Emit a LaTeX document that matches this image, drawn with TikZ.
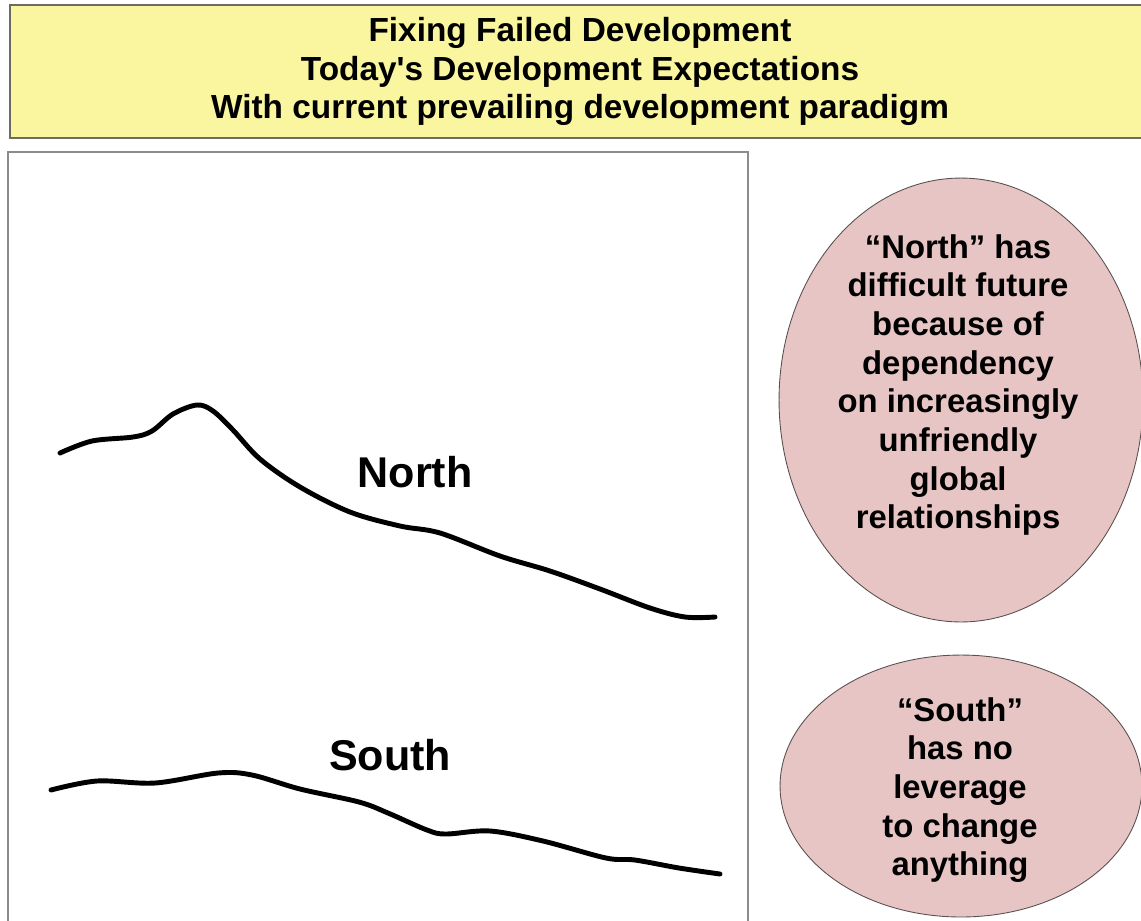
\documentclass[tikz,border=0pt]{standalone}
\usepackage{fontspec}
\setmainfont{Liberation Sans}
\usetikzlibrary{shapes.geometric}
\usetikzlibrary{positioning}
\definecolor{titlefill}{RGB}{250,246,160}
\definecolor{titleline}{RGB}{110,108,96}
\definecolor{bubblefill}{RGB}{232,197,197}
\definecolor{bubbleline}{RGB}{90,80,80}
\definecolor{panelline}{RGB}{140,140,140}

\tikzset{
    titlebox/.style={draw=titleline, line width=0.9pt, fill=titlefill, align=center,
        minimum width=22.8cm, minimum height=2.66cm, inner sep=0pt,
        font=\bfseries\fontsize{19}{21.8}\selectfont},
    bubble/.style={ellipse, draw=bubbleline, line width=0.5pt, fill=bubblefill, inner sep=0pt},
    bubbletext/.style={align=center, font=\bfseries\fontsize{18.7}{22}\selectfont},
    trend/.style={line width=2.8pt, line cap=round, line join=round},
    trendlabel/.style={font=\bfseries\fontsize{24.5}{28}\selectfont},
}

\begin{document}
\begin{tikzpicture}[x=0.02cm, y=-0.02cm]

    \useasboundingbox (0,0) rectangle (1141,920);
    \clip (0,0) rectangle (1141,920);

    \node[titlebox] (title) at (580,71.5) {Fixing Failed Development\\Today\textquotesingle s Development Expectations\\With current prevailing development paradigm};

    \draw[panelline, line width=0.8pt] (8,152) rectangle (748,930);

    % trends
    \draw[trend] plot[smooth, tension=0.55] coordinates {(60,453) (92,441) (133,437) (152,431) (173,414) (197,405) (213,411) (233,430) (260,459) (300,487) (350,512) (400,526) (440,533) (500,556) (550,571) (600,589) (650,608) (685,617) (715,617)};
    \draw[trend] plot[smooth, tension=0.55] coordinates {(51,790) (97,781) (155,783) (218,773) (252,775) (300,789) (359,802) (388,813) (427,830) (446,834) (490,831) (543,841) (606,858) (635,860) (679,868) (720,874)};

    \node[trendlabel] (north) at (415,472) {North};
    \node[trendlabel] (south) at (390,755) {South};

    \node[bubble, minimum width=7.28cm, minimum height=8.88cm] (northbubble) at (961,400) {};
    \node[bubbletext] (northtext) at (958,385) {“North” has\\difficult future\\because of\\dependency\\on increasingly\\unfriendly\\global\\relationships};

    \node[bubble, minimum width=7.24cm, minimum height=5.24cm] (southbubble) at (961,786) {};
    \node[bubbletext] (southtext) at (960,790) {“South”\\has no\\leverage\\to change\\anything};

\end{tikzpicture}
\end{document}
